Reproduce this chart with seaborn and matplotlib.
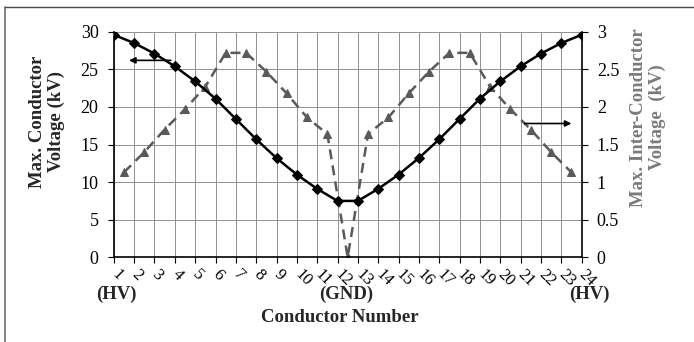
import matplotlib
matplotlib.use("Agg")
import matplotlib.pyplot as plt
import seaborn as sns
import pandas as pd
from matplotlib.lines import Line2D

# Conductor numbers and maximum conductor voltage (kV)
conductors = list(range(1, 25))
conductor_kv = [29.6, 28.5, 27.1, 25.4, 23.4, 21.1, 18.4, 15.7, 13.2, 11.0, 9.1, 7.5,
                7.5, 9.1, 11.0, 13.2, 15.7, 18.4, 21.1, 23.4, 25.4, 27.1, 28.5, 29.6]

# Maximum inter-conductor voltage (kV), located midway between neighbouring conductors
gap_positions = [c + 0.5 for c in range(1, 24)]
inter_kv = [1.13, 1.40, 1.70, 1.97, 2.27, 2.72, 2.72, 2.47, 2.18, 1.86, 1.64, 0.0,
            1.64, 1.86, 2.18, 2.47, 2.72, 2.72, 2.27, 1.97, 1.70, 1.40, 1.13]

left_ticks = [0, 5, 10, 15, 20, 25, 30]
right_ticks = [0, 0.5, 1, 1.5, 2, 2.5, 3]
right_tick_labels = ["0", "0.5", "1", "1.5", "2", "2.5", "3"]

sns.set_style("white")
plt.rcParams["font.family"] = ["Liberation Serif", "DejaVu Serif"]

TICK_FS = 13
XTICK_FS = 12
LABEL_FS = 13.5

df_c = pd.DataFrame({"n": conductors, "v": conductor_kv})
df_i = pd.DataFrame({"n": gap_positions, "v": inter_kv})

fig = plt.figure(figsize=(6.94, 3.42), dpi=100)
ax = fig.add_axes([0.164, 0.2477, 0.838 - 0.164, 0.907 - 0.2477])
ax2 = ax.twinx()

ax.set_zorder(ax2.get_zorder() + 1)
ax.patch.set_visible(False)

sns.lineplot(data=df_i, x="n", y="v", ax=ax2, color="#5a5a5a", linewidth=1.8,
             linestyle=(0, (4, 2.5)), marker="^", markersize=6,
             markeredgecolor="#5a5a5a", markerfacecolor="#5a5a5a")
sns.lineplot(data=df_c, x="n", y="v", ax=ax, color="black", linewidth=1.8,
             marker="D", markersize=5.5, markeredgecolor="black",
             markerfacecolor="black", zorder=5)

ax.set_xlim(1, 24)
ax.set_ylim(0, 30)
ax2.set_ylim(0, 3)
ax.set_xticks(conductors)
ax.set_xticklabels([str(c) for c in conductors], rotation=-45, ha="left",
                   va="center", rotation_mode="anchor")
ax.set_yticks(left_ticks)
ax2.set_yticks(right_ticks)
ax2.set_yticklabels(right_tick_labels)

# Gridlines drawn on the secondary axes so they sit under both curves
for c in conductors:
    ax2.axvline(c, color="#909090", linewidth=0.7, zorder=0)
for t in right_ticks:
    ax2.axhline(t, color="#909090", linewidth=0.7, zorder=0)

ax.tick_params(axis="both", which="both", direction="out", length=4.5, width=0.8,
               colors="black", labelsize=TICK_FS, left=True, bottom=True)
ax.tick_params(axis="y", pad=6.5)
ax.tick_params(axis="x", pad=6, labelsize=XTICK_FS)
ax2.tick_params(axis="y", direction="out", length=4.5, width=0.8, colors="black",
                labelsize=TICK_FS, right=True, pad=6.5)

ax.spines["top"].set_visible(False)
ax2.spines["top"].set_visible(False)
ax.spines["right"].set_visible(False)
ax2.spines["left"].set_visible(False)
ax2.spines["bottom"].set_visible(False)
for sp in ["left", "bottom"]:
    ax.spines[sp].set_color("black")
    ax.spines[sp].set_linewidth(1.2)
ax2.spines["right"].set_color("black")
ax2.spines["right"].set_linewidth(1.2)

ax.set_xlabel("")
ax.set_ylabel("")
ax2.set_ylabel("")

# Axis titles
ax.text(-0.143, 0.60, "Max. Conductor\nVoltage (kV)", transform=ax.transAxes,
        rotation=90, ha="center", va="center", fontsize=LABEL_FS,
        fontweight="bold", linespacing=1.15, multialignment="center")
ax.text(1.142, 0.62, "Max. Inter-Conductor\nVoltage  (kV)", transform=ax.transAxes,
        rotation=90, ha="center", va="center", fontsize=LABEL_FS,
        fontweight="bold", color="#7a7a7a", linespacing=1.15,
        multialignment="center")

# Axis direction arrows
ax.annotate("", xy=(1.75, 26.2), xytext=(3.8, 26.2),
            arrowprops=dict(arrowstyle="-|>", color="black", lw=1.2,
                            mutation_scale=9, shrinkA=0, shrinkB=0))
ax2.annotate("", xy=(23.5, 1.78), xytext=(21.2, 1.78),
             arrowprops=dict(arrowstyle="-|>", color="black", lw=1.2,
                             mutation_scale=9, shrinkA=0, shrinkB=0))

# End and ground markers under the x axis
trans = ax.get_xaxis_transform()
label_y = -(294 - 257.3) / (257.3 - 31.7)
ax.text(1.15, label_y, "(HV)", transform=trans, ha="center", va="center",
        fontsize=LABEL_FS, fontweight="bold")
ax.text(12.45, label_y, "(GND)", transform=trans, ha="center", va="center",
        fontsize=LABEL_FS, fontweight="bold")
ax.text(24.4, label_y, "(HV)", transform=trans, ha="center", va="center",
        fontsize=LABEL_FS, fontweight="bold")
ax.text(12.1, -(318 - 257.3) / (257.3 - 31.7), "Conductor Number",
        transform=trans, ha="center", va="center", fontsize=LABEL_FS,
        fontweight="bold")

# Outer frame lines
fig.add_artist(Line2D([5 / 694, 5 / 694], [0, 1 - 7 / 342], color="#6e6e6e",
                      linewidth=1.2, transform=fig.transFigure))
fig.add_artist(Line2D([5 / 694, 1], [1 - 7 / 342, 1 - 7 / 342], color="#4a4a4a",
                      linewidth=1.0, transform=fig.transFigure))

fig.savefig("out.png", dpi=100)
